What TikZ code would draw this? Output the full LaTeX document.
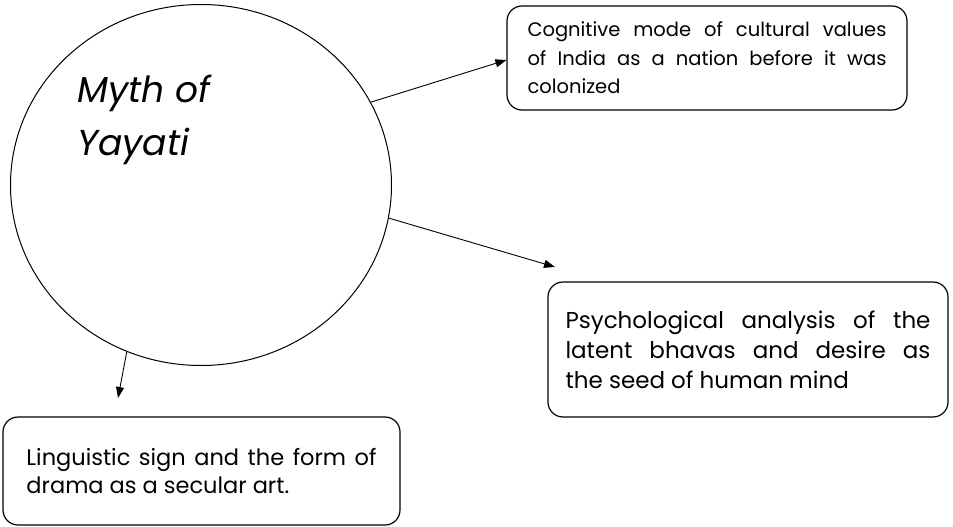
\documentclass[tikz,border=0pt]{standalone}
\usepackage{fontspec}
\setmainfont{Poppins}
\usetikzlibrary{shapes.geometric,arrows.meta}
\tikzset{
  box/.style={draw, line width=1.2pt, rounded corners=15pt, inner sep=0pt, align=center},
  link/.style={line width=0.9pt, -{Triangle[length=11pt,width=8pt]}},
}
\begin{document}
\begin{tikzpicture}[x=1pt,y=-1pt]
\useasboundingbox (0,0) rectangle (953,527);
\node[draw, ellipse, line width=1pt, minimum width=381pt, minimum height=361pt, inner sep=0pt] (circ) at (201,185) {};
\node[anchor=base west, inner sep=0pt] (myth) at (77,102) {\parbox[t]{250pt}{\fontsize{36}{53}\selectfont\itshape Myth of\\Yayati}};
\node[box, minimum width=400pt, minimum height=104pt] (b1) at (707,58)
  {\parbox{359pt}{\fontsize{19.5}{28.5}\selectfont Cognitive mode of cultural values\linebreak of India as a nation before it was\linebreak colonized}};
\node[box, minimum width=400pt, minimum height=135pt] (b2) at (748,349.5)
  {\parbox{365pt}{\fontsize{23}{30}\selectfont Psychological analysis of the\linebreak latent bhavas and desire as\linebreak the seed of human mind}};
\node[box, minimum width=397pt, minimum height=108pt] (b3) at (201.5,471)
  {\parbox{350pt}{\fontsize{22.5}{28.5}\selectfont Linguistic sign and the form of\linebreak drama as a secular art.}};
\coordinate (e2) at (555,267);
\coordinate (e3) at (118,398);
\draw[link] (circ.26.7) -- (b1.west |- 0,60);
\draw[link] (circ.-10) -- (e2);
\draw[link] (circ.246.5) -- (e3);
\end{tikzpicture}
\end{document}
